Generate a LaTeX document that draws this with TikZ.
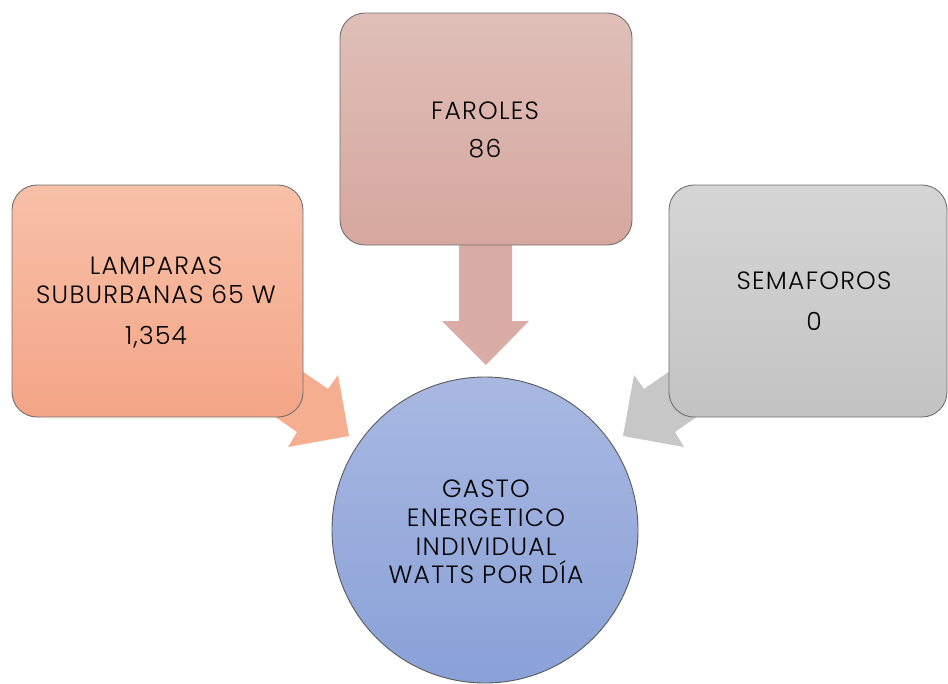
\documentclass[tikz,border=0pt]{standalone}
\usepackage{fontspec}
\setmainfont{Poppins}[UprightFont=* Light, LetterSpace=5]
\definecolor{lboxT}{HTML}{F7C0A8}
\definecolor{lboxB}{HTML}{F4A587}
\definecolor{tboxT}{HTML}{DFBFB9}
\definecolor{tboxB}{HTML}{D6A79E}
\definecolor{rboxT}{HTML}{D5D5D5}
\definecolor{rboxB}{HTML}{C3C3C3}
\definecolor{circT}{HTML}{A8B8E1}
\definecolor{circB}{HTML}{8AA1D8}
\definecolor{larrow}{HTML}{F6AE91}
\definecolor{tarrow}{HTML}{D9ADA5}
\definecolor{rarrow}{HTML}{C7C7C7}
\definecolor{edgegray}{HTML}{707070}
\begin{document}
\begin{tikzpicture}[x=1pt,y=-1pt,
  boxshape/.style={draw=edgegray, line width=0.9pt, rounded corners=25pt},
  txt/.style={font=\fontsize{25}{29}\selectfont, anchor=base, inner sep=0pt, text=black}]
\useasboundingbox (0,0) rectangle (948,683);
% arrows (under boxes)
\fill[tarrow] (459,240) -- (512,240) -- (512,321) -- (529,321) -- (486,365) -- (442,321) -- (459,321) -- cycle;
\fill[larrow] (279,355) -- (328,389) -- (338,375) -- (349,436) -- (288,447) -- (297,432) -- (248,398) -- cycle;
\fill[rarrow] (693,355) -- (644,389) -- (634,375) -- (623,436) -- (684,447) -- (675,432) -- (724,398) -- cycle;
% boxes
\path[boxshape, top color=lboxT, bottom color=lboxB] (12,185) rectangle (303,417);
\path[boxshape, top color=tboxT, bottom color=tboxB] (340,13) rectangle (632,245);
\path[boxshape, top color=rboxT, bottom color=rboxB] (669,185) rectangle (947,417);
% circle
\path[draw=edgegray!80!black, line width=0.9pt, top color=circT, bottom color=circB] (485,530) circle (153);
% texts
\node[txt] (l1) at (156,274) {LAMPARAS};
\node[txt] (l2) at (156,303) {SUBURBANAS 65 W};
\node[txt] (l3) at (156,344) {1,354};
\node[txt] (t1) at (485,119) {FAROLES};
\node[txt] (t2) at (485,157) {86};
\node[txt] (r1) at (814,289) {SEMAFOROS};
\node[txt] (r2) at (814,330) {0};
\node[txt] (c1) at (486,497) {GASTO};
\node[txt] (c2) at (486,526) {ENERGETICO};
\node[txt] (c3) at (486,555) {INDIVIDUAL};
\node[txt] (c4) at (486,583) {WATTS POR DÍA};
\end{tikzpicture}
\end{document}
